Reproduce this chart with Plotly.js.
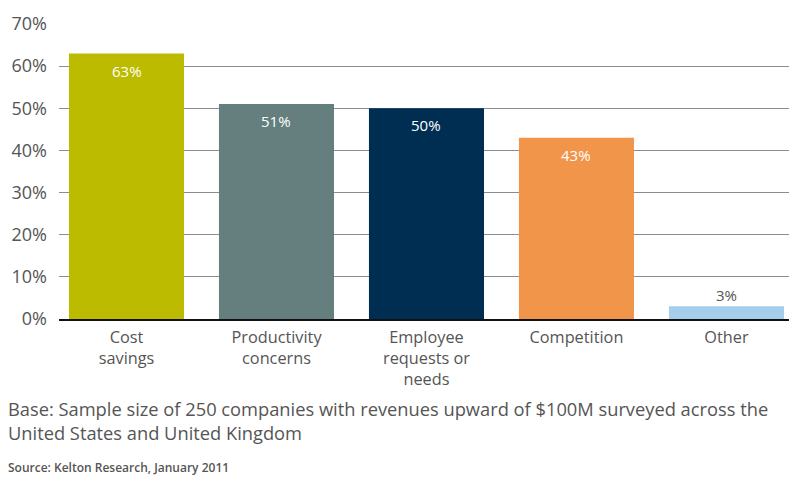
<!DOCTYPE html>
<html>
<head>
<meta charset="utf-8">
<script src="https://cdn.plot.ly/plotly-3.0.1.min.js"></script>
<style>html,body{margin:0;padding:0;background:#fff;}#chart{width:797px;height:478px;}</style>
</head>
<body>
<div id="chart"></div>
<script>
const categories = ["Cost<br>savings", "Productivity<br>concerns", "Employee<br>requests or<br>needs", "Competition", "Other"];
const values = [63, 51, 50, 43, 3];
const labels = ["63%", "51%", "50%", "43%", "3%"];
const barColors = ["#BDBB00", "#647F7D", "#002E52", "#F0954A", "#A5CEEB"];
const labelInside = [true, true, true, true, false];
const yTicks = [0, 10, 20, 30, 40, 50, 60, 70];
const yTickText = ["0%", "10%", "20%", "30%", "40%", "50%", "60%", "70%"];
const footnote1 = "Base: Sample size of 250 companies with revenues upward of $100M surveyed across the<br>United States and United Kingdom";
const source = "Source: Kelton Research, January 2011";

const FONT = "'Open Sans', Lato, sans-serif";
const GREY = "#555555";

const annotations = values.map((v, i) => ({
  x: i, y: v, xref: "x", yref: "y",
  text: labels[i], showarrow: false,
  yanchor: "middle",
  yshift: labelInside[i] ? -17 : 11,
  font: {family: FONT, size: 15, color: labelInside[i] ? "#ffffff" : GREY}
}));
annotations.push({
  xref: "paper", yref: "paper", x: -0.072, y: -0.255, xanchor: "left", yanchor: "top",
  align: "left", showarrow: false, text: footnote1,
  font: {family: FONT, size: 18.3, color: GREY}
});
annotations.push({
  xref: "paper", yref: "paper", x: -0.072, y: -0.468, xanchor: "left", yanchor: "top",
  align: "left", showarrow: false, text: source,
  font: {family: FONT, size: 12, color: GREY, weight: 600}
});

const trace = {
  type: "bar",
  x: categories.map((c, i) => i),
  y: values,
  width: 0.767,
  marker: {color: barColors, line: {width: 0}},
  hoverinfo: "none"
};

const layout = {
  width: 797, height: 478,
  margin: {l: 59, r: 8, t: 24, b: 159},
  paper_bgcolor: "#ffffff", plot_bgcolor: "#ffffff",
  showlegend: false,
  font: {family: FONT, color: GREY},
  xaxis: {
    range: [-0.45, 4.417],
    tickmode: "array",
    tickvals: categories.map((c, i) => i),
    ticktext: categories,
    tickfont: {family: FONT, size: 16.3, color: GREY},
    showgrid: false, zeroline: false,
    showline: true, linecolor: "#111111", linewidth: 1.5,
    ticks: "", ticklabelstandoff: 3,
    fixedrange: true
  },
  yaxis: {
    range: [0, 70],
    tickmode: "array",
    tickvals: yTicks,
    ticktext: yTickText,
    tickfont: {family: FONT, size: 18, color: GREY},
    showgrid: true, gridcolor: "#8c8c8c", gridwidth: 1,
    zeroline: false, showline: false, ticks: "",
    ticklabelstandoff: 11,
    fixedrange: true
  },
  annotations: annotations
};

Plotly.newPlot("chart", [trace], layout, {displayModeBar: false, staticPlot: true});
</script>
</body>
</html>
